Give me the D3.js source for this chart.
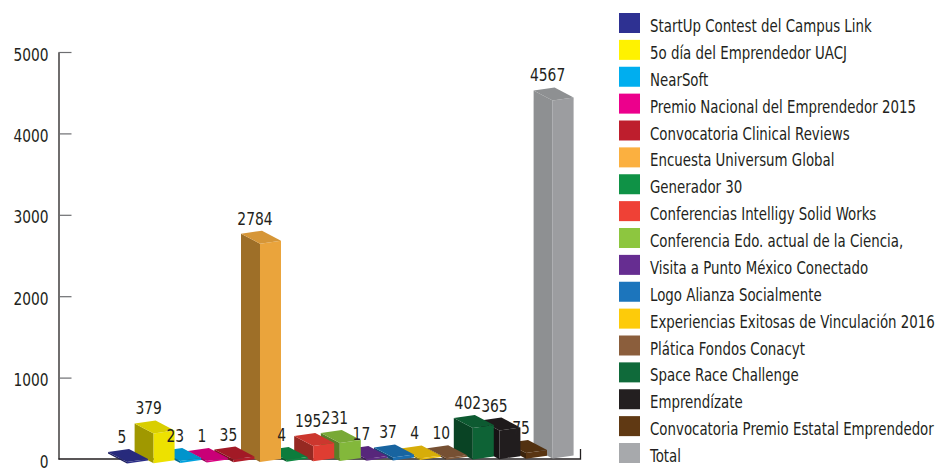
<!DOCTYPE html>
<html>
<head>
<meta charset="utf-8">
<script src="https://cdn.jsdelivr.net/npm/d3@7"></script>
<style>
  html, body { margin: 0; padding: 0; background: #fff; }
  svg { display: block; }
  text { font-family: "DejaVu Sans Condensed", "DejaVu Sans", sans-serif; fill: #231f20; }
</style>
</head>
<body>
<svg id="chart" width="938" height="470"></svg>
<script>
const categories = [
  "StartUp Contest del Campus Link",
  "5o día del Emprendedor UACJ",
  "NearSoft",
  "Premio Nacional del Emprendedor 2015",
  "Convocatoria Clinical Reviews",
  "Encuesta Universum Global",
  "Generador 30",
  "Conferencias Intelligy Solid Works",
  "Conferencia Edo. actual de la Ciencia,",
  "Visita a Punto México Conectado",
  "Logo Alianza Socialmente",
  "Experiencias Exitosas de Vinculación 2016",
  "Plática Fondos Conacyt",
  "Space Race Challenge",
  "Emprendízate",
  "Convocatoria Premio Estatal Emprendedor",
  "Total"
];
const values = [5, 379, 23, 1, 35, 2784, 4, 195, 231, 17, 37, 4, 10, 402, 365, 75, 4567];
const colors = [
  "#2e3192", "#fff200", "#00aeef", "#ec008c", "#be1e2d", "#fbb040",
  "#0f9246", "#ef4136", "#8dc63f", "#662d91", "#1c75bc", "#fdcb0a",
  "#8b5e3c", "#0f6a3a", "#231f20", "#603913", "#a7a9ac"
];
const yTicks = [0, 1000, 2000, 3000, 4000, 5000];

const svg = d3.select("#chart");

// condense a text element horizontally (reference uses a condensed face)
function condense(sel, k) {
  sel.each(function() {
    const len = this.getComputedTextLength();
    d3.select(this).attr("textLength", (len * k).toFixed(2)).attr("lengthAdjust", "spacingAndGlyphs");
  });
}

// axis scale
const y = d3.scaleLinear().domain([0, 5000]).range([459, 52]);
// bar height scale (3D projection is a bit shorter than axis)
const h = d3.scaleLinear().domain([0, 5000]).range([0, 392]);
// x position of the front-bottom corner of each box
const x = d3.scalePoint().domain(categories).range([127, 552.6]);
// floor recedes slightly toward the right
const floorY = d3.scaleLinear().domain([0, categories.length - 1]).range([463.5, 458.5]);

// y axis
const axisG = svg.append("g").attr("transform", "translate(58.5,0)");
axisG.call(d3.axisLeft(y).tickValues(yTicks).tickSize(-13).tickSizeOuter(0).tickPadding(10).tickFormat(d3.format("d")));
axisG.select(".domain").attr("stroke", "#231f20").attr("stroke-width", 1.3);
axisG.selectAll(".tick line").attr("stroke", "#6d6e71").attr("stroke-width", 1.2);
axisG.selectAll(".tick text")
  .attr("dy", "0.47em")
  .style("font-size", "17px")
  .style("font-family", "\"DejaVu Sans Condensed\", sans-serif")
  .attr("fill", "#231f20")
  .call(condense, 0.9);
axisG.selectAll(".tick").filter(d => d === 0).select("line").remove();

// x axis baseline with end tick
svg.append("path")
  .attr("d", `M58.5,${y(0)}H580.5V${y(0) - 10}`)
  .attr("fill", "none")
  .attr("stroke", "#231f20")
  .attr("stroke-width", 1.3);

// 3D boxes
const L = [-19, -10], R = [21, -3], B = [2, -13];
const data = categories.map((c, i) => ({ c, v: values[i], col: colors[i], i }));
function geom(d) {
  const fx = x(d.c), fy = floorY(d.i);
  const hh = Math.max(h(d.v), 1.6);
  return { fx, fy, hh, topBack: fy + B[1] - hh };
}
function pts(arr) { return arr.map(p => p.join(",")).join(" "); }

const boxes = svg.append("g")
  .selectAll("g.box")
  .data(data.slice().reverse())
  .join("g")
  .attr("class", "box");

boxes.each(function(d) {
  const g = d3.select(this);
  const { fx, fy, hh } = geom(d);
  const Fb = [fx, fy], Ft = [fx, fy - hh];
  const Lb = [fx + L[0], fy + L[1]], Lt = [fx + L[0], fy + L[1] - hh];
  const Rb = [fx + R[0], fy + R[1]], Rt = [fx + R[0], fy + R[1] - hh];
  const Bt = [fx + B[0], fy + B[1] - hh];
  const base = d3.color(d.col);
  const isGray = d.c === "Total";
  g.append("polygon").attr("points", pts([Lb, Fb, Ft, Lt]))
    .attr("fill", base.darker(isGray ? 0.45 : 1.3).formatHex());
  g.append("polygon").attr("points", pts([Fb, Rb, Rt, Ft]))
    .attr("fill", base.darker(0.2).formatHex());
  g.append("polygon").attr("points", pts([Lt, Ft, Rt, Bt]))
    .attr("fill", base.darker(0.45).formatHex());
});

// value labels on top of all boxes
svg.append("g").selectAll("text").data(data).join("text")
  .attr("x", d => geom(d).fx - 5)
  .attr("y", d => geom(d).topBack - 6)
  .attr("text-anchor", "middle")
  .style("font-size", "17.5px")
  .text(d => d.v)
  .call(condense, 0.88);

// legend
const legend = svg.append("g").attr("transform", "translate(619,13)");
const rowH = (443 - 13) / (categories.length - 1);
const items = legend.selectAll("g").data(data).join("g")
  .attr("transform", (d, i) => `translate(0,${i * rowH})`);
items.append("rect").attr("width", 21).attr("height", 20).attr("fill", d => d.col);
items.append("g").attr("transform", "translate(31,19) scale(0.825,1)")
  .append("text")
  .style("font-size", "18px")
  .text(d => d.c);
</script>
</body>
</html>
